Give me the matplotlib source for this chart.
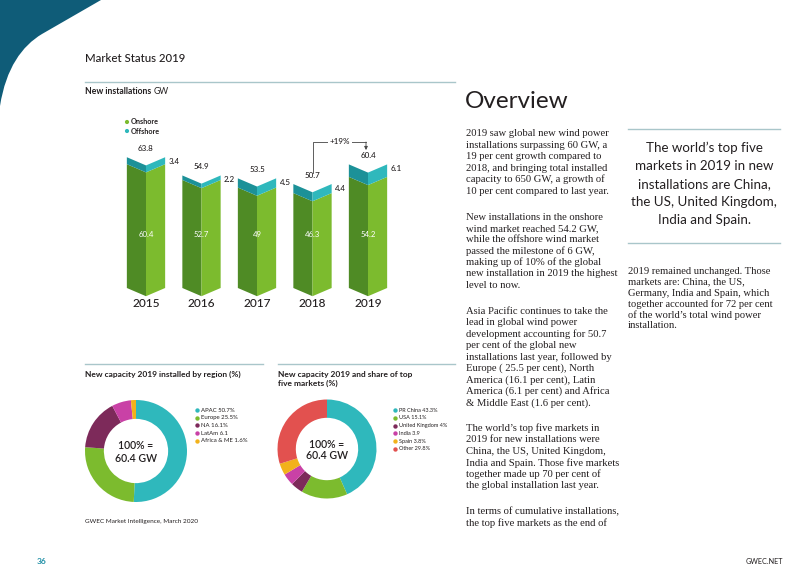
import matplotlib.pyplot as plt
from matplotlib.patches import Polygon, PathPatch
from matplotlib.path import Path

# new installations, GW
years = ["2015", "2016", "2017", "2018", "2019"]
onshore = [60.4, 52.7, 49, 46.3, 54.2]
offshore = [3.4, 2.2, 4.5, 4.4, 6.1]
totals = ["63.8", "54.9", "53.5", "50.7", "60.4"]
onshore_lbl = ["60.4", "52.7", "49", "46.3", "54.2"]
offshore_lbl = ["3.4", "2.2", "4.5", "4.4", "6.1"]

# donuts
region_labels = ["APAC 50.7%", "Europe 25.5%", "NA 16.1%", "LatAm 6.1", "Africa & ME 1.6%"]
region_share = [50.7, 25.5, 16.1, 6.1, 1.6]
market_labels = ["PR China 43.3%", "USA 15.1%", "United Kingdom 4%", "India 3.9",
                 "Spain 3.8%", "Other 29.8%"]
market_share = [43.3, 15.1, 4.0, 3.9, 3.8, 29.8]

GREEN, GREEN_D = "#7cbb2e", "#4f8b25"
TEAL, TEAL_D = "#2fb8bc", "#1c9198"
PURPLE, MAGENTA, YELLOW, RED = "#7d2a5a", "#c941a6", "#f2b21b", "#e2514f"
INK = "#231f20"
RULE = "#a9c6ca"
SANS = "Lato"
SERIF = "Liberation Serif"

region_colors = [TEAL, GREEN, PURPLE, MAGENTA, YELLOW]
market_colors = [TEAL, GREEN, PURPLE, MAGENTA, YELLOW, RED]

para_left = [
    ["2019 saw global new wind power", "installations surpassing 60 GW, a",
     "19 per cent growth compared to", "2018, and bringing total installed",
     "capacity to 650 GW, a growth of", "10 per cent compared to last year."],
    ["New installations in the onshore", "wind market reached 54.2 GW,",
     "while the offshore wind market", "passed the milestone of 6 GW,",
     "making up of 10% of the global", "new installation in 2019 the highest",
     "level to now."],
    ["Asia Pacific continues to take the", "lead in global wind power",
     "development accounting for 50.7", "per cent of the global new",
     "installations last year, followed by", "Europe ( 25.5 per cent), North",
     "America (16.1 per cent), Latin", "America (6.1 per cent) and Africa",
     "& Middle East (1.6 per cent)."],
    ["The world\u2019s top five markets in", "2019 for new installations were",
     "China, the US, United Kingdom,", "India and Spain. Those five markets",
     "together made up 70 per cent of", "the global installation last year."],
    ["In terms of cumulative installations,", "the top five markets as the end of"],
]
quote = ["The world\u2019s top five", "markets in 2019 in new", "installations are China,",
         "the US, United Kingdom,", "India and Spain."]
para_right = ["2019 remained unchanged. Those", "markets are: China, the US,",
              "Germany, India and Spain, which", "together accounted for 72 per cent",
              "of the world\u2019s total wind power", "installation."]

fig = plt.figure(figsize=(8, 5.72), dpi=100)
page = fig.add_axes([0, 0, 1, 1])
page.set_xlim(0, 800)
page.set_ylim(572, 0)
page.axis("off")

# corner shape
verts = [(0, 0), (101, 0), (42, 34), (22, 46), (6, 68), (0, 106), (0, 0)]
codes = [Path.MOVETO, Path.LINETO, Path.LINETO, Path.CURVE4, Path.CURVE4, Path.CURVE4,
         Path.CLOSEPOLY]
page.add_patch(PathPatch(Path(verts, codes), fc="#0f5c78", ec="none"))

page.text(85, 57, "Market Status 2019", fontsize=8.2, family=SANS, color=INK,
          va="center_baseline", fontweight="medium")
page.plot([85, 455], [82, 82], color=RULE, lw=1)
t = page.text(85, 91, "New installations ", fontsize=6.2, family=SANS, fontweight="bold",
              color=INK, va="center_baseline")
page.annotate("GW", xycoords=t, xy=(1, 0), va="bottom", fontsize=6.2, family=SANS,
              color=INK)

# legend of bar chart
page.scatter([127, 127], [122, 131], s=9, c=[GREEN, TEAL], linewidths=0)
page.text(131, 122, "Onshore", fontsize=5.2, family=SANS, fontweight="bold", color=INK,
          va="center")
page.text(131, 131, "Offshore", fontsize=5.2, family=SANS, fontweight="bold", color=INK,
          va="center")

# right side texts
page.text(465, 101, "Overview", fontsize=17.5, family=SANS, fontweight="normal",
          color=INK, va="center")
y = 133
for para in para_left:
    for line in para:
        page.text(466, y, line, fontsize=7.7, family=SERIF, color=INK,
                  va="center_baseline")
        y += 11.4
    y += 14.6

page.plot([628, 780], [129, 129], color=RULE, lw=1)
page.plot([628, 780], [243, 243], color=RULE, lw=1)
for k, line in enumerate(quote):
    page.text(704, 147 + 18 * k, line, fontsize=9.6, family=SANS, color=INK,
              ha="center", va="center_baseline")
for k, line in enumerate(para_right):
    page.text(628, 270 + 11 * k, line, fontsize=7.6, family=SERIF, color=INK,
              va="center_baseline")

# bottom section
page.plot([85, 263], [364, 364], color=RULE, lw=1)
page.plot([278, 455], [364, 364], color=RULE, lw=1)
page.text(85, 374, "New capacity 2019 installed by region (%)", fontsize=6.0,
          family=SANS, fontweight="bold", color=INK, va="center_baseline")
page.text(278, 374, "New capacity 2019 and share of top", fontsize=6.0,
          family=SANS, fontweight="bold", color=INK, va="center_baseline")
page.text(278, 383, "five markets (%)", fontsize=6.0,
          family=SANS, fontweight="bold", color=INK, va="center_baseline")
page.text(85, 521, "GWEC Market Intelligence, March 2020", fontsize=4.6, family=SANS,
          color=INK, va="center_baseline")

for k, (lab, col) in enumerate(zip(region_labels, region_colors)):
    page.scatter(197, 410 + 7.7 * k, s=10, c=col, linewidths=0)
    page.text(201, 410 + 7.7 * k, lab, fontsize=4.3, family=SANS, color=INK, va="center")
for k, (lab, col) in enumerate(zip(market_labels, market_colors)):
    page.scatter(395, 410 + 7.8 * k, s=10, c=col, linewidths=0)
    page.text(399, 410 + 7.8 * k, lab, fontsize=4.0, family=SANS, color=INK, va="center")

page.text(37, 561, "36", fontsize=6, family=SANS, fontweight="bold", color="#1f8fa6",
          va="center")
page.text(783, 561, "GWEC.NET", fontsize=5.2, family=SANS, color=INK, ha="right",
          va="center")

# bar chart
px_per_gw = 2.05
axb = fig.add_axes([100 / 800, 1 - 320 / 572, 320 / 800, 210 / 572])
axb.set_xlim((100 - 146) / 55.5, (420 - 146) / 55.5)
axb.set_ylim((288 - 320) / px_per_gw, (288 - 110) / px_per_gw)
axb.axis("off")
hw, d = 0.345, 4.0
for i, (o, f) in enumerate(zip(onshore, offshore)):
    tot = o + f
    faces = [
        ([(i - hw, 0), (i, -d), (i, o - d), (i - hw, o)], GREEN_D),
        ([(i, -d), (i + hw, 0), (i + hw, o), (i, o - d)], GREEN),
        ([(i - hw, o), (i, o - d), (i, tot - d), (i - hw, tot)], TEAL_D),
        ([(i, o - d), (i + hw, o), (i + hw, tot), (i, tot - d)], TEAL),
    ]
    for pts, col in faces:
        axb.add_patch(Polygon(pts, closed=True, fc=col, ec="none"))
    axb.text(i, tot + 4.4, totals[i], fontsize=5.8, family=SANS, color=INK,
             ha="center", va="center", fontweight="medium")
    axb.text(i + hw + 0.06, tot - 2.1, offshore_lbl[i], fontsize=5.8, family=SANS,
             color=INK, ha="left", va="center", fontweight="medium")
    axb.text(i, 26, onshore_lbl[i], fontsize=5.6, family=SANS, color="white",
             ha="center", va="center")
    axb.text(i, -7.6, years[i], fontsize=8.6, family=SANS, color=INK, ha="center",
             va="center", fontweight="medium")

# +19% annotation
x_end = (366 - 146) / 55.5
y_top = (288 - 142) / px_per_gw
axb.plot([3, 3, x_end], [56, y_top, y_top], color="#444444", lw=0.6)
axb.annotate("", xy=(x_end, 67.3), xytext=(x_end, y_top),
             arrowprops=dict(arrowstyle="-|>", lw=0.6, color="#444444",
                             mutation_scale=5, shrinkA=0, shrinkB=0))
axb.text(3.5, y_top, "+19%", fontsize=5.8, family=SANS, color=INK, ha="center",
         va="center", fontweight="medium",
         bbox=dict(fc="white", ec="none", pad=1.2))

# donuts
def donut(cx, cy, r, shares, colors):
    ax = fig.add_axes([(cx - r) / 800, 1 - (cy + r) / 572, 2 * r / 800, 2 * r / 572])
    ax.pie(shares, colors=colors, startangle=90, counterclock=False, radius=1,
           wedgeprops=dict(width=0.37, edgecolor="none"))
    ax.set_xlim(-1, 1)
    ax.set_ylim(-1, 1)
    ax.text(0, 0.1, "100% =", fontsize=7.6, family=SANS, color=INK, ha="center",
            va="center", fontweight="semibold")
    ax.text(0, -0.14, "60.4 GW", fontsize=7.6, family=SANS, color=INK, ha="center",
            va="center", fontweight="semibold")

donut(136, 451, 51, region_share, region_colors)
donut(327, 449, 49.5, market_share, market_colors)

fig.savefig("out.png", dpi=100)
